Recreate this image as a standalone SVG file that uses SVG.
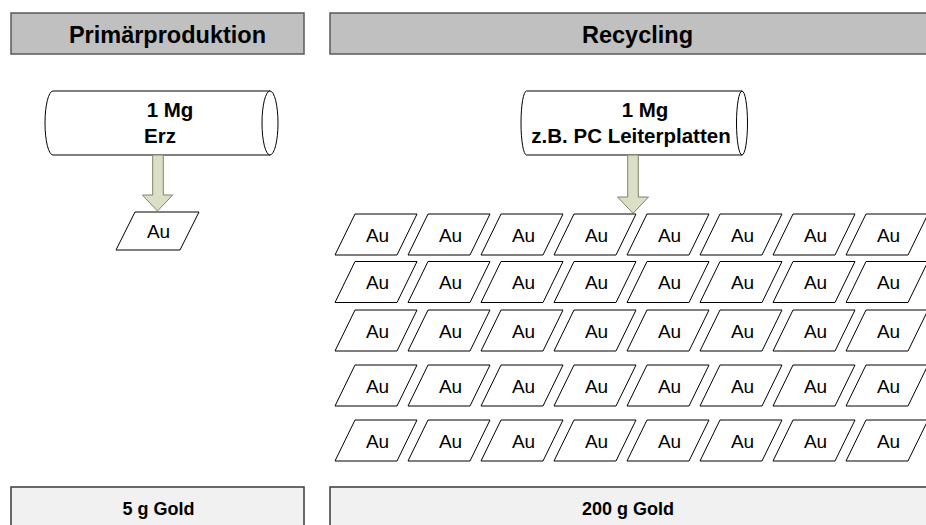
<svg xmlns="http://www.w3.org/2000/svg" xmlns:xlink="http://www.w3.org/1999/xlink" width="926" height="525" viewBox="0 0 926 525">
  <style>
    .hdr { fill: #c0c0c0; stroke: #5a5a5a; stroke-width: 1.5; }
    .ftr { fill: #f1f1f1; stroke: #3a3a3a; stroke-width: 1.5; }
    .hdr-t { font-family: "Liberation Sans", Arial, sans-serif; font-weight: bold; font-size: 23.5px; fill: #000; text-anchor: middle; }
    .ftr-t { font-family: "Liberation Sans", Arial, sans-serif; font-weight: bold; font-size: 18px; fill: #000; text-anchor: middle; }
    .cyl { fill: #ffffff; stroke: #000; stroke-width: 1; }
    .cyl-t { font-family: "Liberation Sans", Arial, sans-serif; font-weight: bold; font-size: 20.5px; fill: #000; text-anchor: middle; }
    .para { fill: #ffffff; stroke: #000; stroke-width: 1; }
    .au { font-family: "Liberation Sans", Arial, sans-serif; font-size: 19px; fill: #000; text-anchor: middle; }
    .flow { fill: #dadfc6; stroke: #80846a; stroke-width: 1; }
  </style>
  <defs>
    <!-- data parallelogram used for every "Au" unit on the recycling side -->
    <polygon id="para" class="para" points="20,0 82,0 62,41 0,41"/>
  </defs>

  <rect width="926" height="525" fill="#ffffff"/>

  <!-- column headers -->
  <g id="hdr-primaer">
    <rect class="hdr" x="11" y="13" width="293" height="41"/>
    <text class="hdr-t" x="167.5" y="43">Primärproduktion</text>
  </g>
  <g id="hdr-recycling">
    <rect class="hdr" x="330" y="13" width="610" height="41"/>
    <text class="hdr-t" x="637.5" y="43">Recycling</text>
  </g>

  <!-- input material cylinders -->
  <g id="src-erz">
    <path class="cyl" d="M53,91 L270,91 L270,155 L53,155 A8,32 0 0 1 53,91 Z"/>
    <ellipse class="cyl" cx="270" cy="123" rx="8" ry="32"/>
    <text class="cyl-t" x="170" y="117">1 Mg</text>
    <text class="cyl-t" x="160" y="143">Erz</text>
  </g>
  <g id="src-pcb">
    <path class="cyl" d="M526.5,91 L742,91 L742,155 L526.5,155 A5.5,32 0 0 1 526.5,91 Z"/>
    <ellipse class="cyl" cx="742" cy="123" rx="5.5" ry="32"/>
    <text class="cyl-t" x="645" y="117">1 Mg</text>
    <text class="cyl-t" x="631" y="143">z.B. PC Leiterplatten</text>
  </g>

  <!-- block arrows -->
  <g id="connectors">
    <polygon class="flow" points="152.7,155 163.3,155 163.3,195 172.7,195 157.5,211 142.3,195 152.7,195"/>
    <polygon class="flow" points="627.7,155 638.3,155 638.3,197 648.5,197 633,213.3 617.5,197 627.7,197"/>
  </g>

  <!-- gold yield, primary production -->
  <g id="au-primaer">
    <polygon class="para" points="135,212 199,212 180,250 116,250"/>
    <text class="au" x="158.5" y="238">Au</text>
  </g>

  <!-- gold yield, recycling: 5 rows x 8 columns -->
  <g id="au-r1c1"><use xlink:href="#para" x="335" y="214"/><text class="au" x="377.5" y="241.5">Au</text></g>
  <g id="au-r1c2"><use xlink:href="#para" x="408" y="214"/><text class="au" x="450.5" y="241.5">Au</text></g>
  <g id="au-r1c3"><use xlink:href="#para" x="481" y="214"/><text class="au" x="523.5" y="241.5">Au</text></g>
  <g id="au-r1c4"><use xlink:href="#para" x="554" y="214"/><text class="au" x="596.5" y="241.5">Au</text></g>
  <g id="au-r1c5"><use xlink:href="#para" x="627" y="214"/><text class="au" x="669.5" y="241.5">Au</text></g>
  <g id="au-r1c6"><use xlink:href="#para" x="700" y="214"/><text class="au" x="742.5" y="241.5">Au</text></g>
  <g id="au-r1c7"><use xlink:href="#para" x="773" y="214"/><text class="au" x="815.5" y="241.5">Au</text></g>
  <g id="au-r1c8"><use xlink:href="#para" x="846" y="214"/><text class="au" x="888.5" y="241.5">Au</text></g>

  <g id="au-r2c1"><use xlink:href="#para" x="335" y="261.5"/><text class="au" x="377.5" y="289">Au</text></g>
  <g id="au-r2c2"><use xlink:href="#para" x="408" y="261.5"/><text class="au" x="450.5" y="289">Au</text></g>
  <g id="au-r2c3"><use xlink:href="#para" x="481" y="261.5"/><text class="au" x="523.5" y="289">Au</text></g>
  <g id="au-r2c4"><use xlink:href="#para" x="554" y="261.5"/><text class="au" x="596.5" y="289">Au</text></g>
  <g id="au-r2c5"><use xlink:href="#para" x="627" y="261.5"/><text class="au" x="669.5" y="289">Au</text></g>
  <g id="au-r2c6"><use xlink:href="#para" x="700" y="261.5"/><text class="au" x="742.5" y="289">Au</text></g>
  <g id="au-r2c7"><use xlink:href="#para" x="773" y="261.5"/><text class="au" x="815.5" y="289">Au</text></g>
  <g id="au-r2c8"><use xlink:href="#para" x="846" y="261.5"/><text class="au" x="888.5" y="289">Au</text></g>

  <g id="au-r3c1"><use xlink:href="#para" x="335" y="310"/><text class="au" x="377.5" y="337.5">Au</text></g>
  <g id="au-r3c2"><use xlink:href="#para" x="408" y="310"/><text class="au" x="450.5" y="337.5">Au</text></g>
  <g id="au-r3c3"><use xlink:href="#para" x="481" y="310"/><text class="au" x="523.5" y="337.5">Au</text></g>
  <g id="au-r3c4"><use xlink:href="#para" x="554" y="310"/><text class="au" x="596.5" y="337.5">Au</text></g>
  <g id="au-r3c5"><use xlink:href="#para" x="627" y="310"/><text class="au" x="669.5" y="337.5">Au</text></g>
  <g id="au-r3c6"><use xlink:href="#para" x="700" y="310"/><text class="au" x="742.5" y="337.5">Au</text></g>
  <g id="au-r3c7"><use xlink:href="#para" x="773" y="310"/><text class="au" x="815.5" y="337.5">Au</text></g>
  <g id="au-r3c8"><use xlink:href="#para" x="846" y="310"/><text class="au" x="888.5" y="337.5">Au</text></g>

  <g id="au-r4c1"><use xlink:href="#para" x="335" y="365"/><text class="au" x="377.5" y="392.5">Au</text></g>
  <g id="au-r4c2"><use xlink:href="#para" x="408" y="365"/><text class="au" x="450.5" y="392.5">Au</text></g>
  <g id="au-r4c3"><use xlink:href="#para" x="481" y="365"/><text class="au" x="523.5" y="392.5">Au</text></g>
  <g id="au-r4c4"><use xlink:href="#para" x="554" y="365"/><text class="au" x="596.5" y="392.5">Au</text></g>
  <g id="au-r4c5"><use xlink:href="#para" x="627" y="365"/><text class="au" x="669.5" y="392.5">Au</text></g>
  <g id="au-r4c6"><use xlink:href="#para" x="700" y="365"/><text class="au" x="742.5" y="392.5">Au</text></g>
  <g id="au-r4c7"><use xlink:href="#para" x="773" y="365"/><text class="au" x="815.5" y="392.5">Au</text></g>
  <g id="au-r4c8"><use xlink:href="#para" x="846" y="365"/><text class="au" x="888.5" y="392.5">Au</text></g>

  <g id="au-r5c1"><use xlink:href="#para" x="335" y="420"/><text class="au" x="377.5" y="447.5">Au</text></g>
  <g id="au-r5c2"><use xlink:href="#para" x="408" y="420"/><text class="au" x="450.5" y="447.5">Au</text></g>
  <g id="au-r5c3"><use xlink:href="#para" x="481" y="420"/><text class="au" x="523.5" y="447.5">Au</text></g>
  <g id="au-r5c4"><use xlink:href="#para" x="554" y="420"/><text class="au" x="596.5" y="447.5">Au</text></g>
  <g id="au-r5c5"><use xlink:href="#para" x="627" y="420"/><text class="au" x="669.5" y="447.5">Au</text></g>
  <g id="au-r5c6"><use xlink:href="#para" x="700" y="420"/><text class="au" x="742.5" y="447.5">Au</text></g>
  <g id="au-r5c7"><use xlink:href="#para" x="773" y="420"/><text class="au" x="815.5" y="447.5">Au</text></g>
  <g id="au-r5c8"><use xlink:href="#para" x="846" y="420"/><text class="au" x="888.5" y="447.5">Au</text></g>

  <!-- totals -->
  <g id="sum-primaer">
    <rect class="ftr" x="11" y="487" width="293" height="50"/>
    <text class="ftr-t" x="158.5" y="515">5 g Gold</text>
  </g>
  <g id="sum-recycling">
    <rect class="ftr" x="330" y="487" width="610" height="50"/>
    <text class="ftr-t" x="628" y="515">200 g Gold</text>
  </g>
</svg>
